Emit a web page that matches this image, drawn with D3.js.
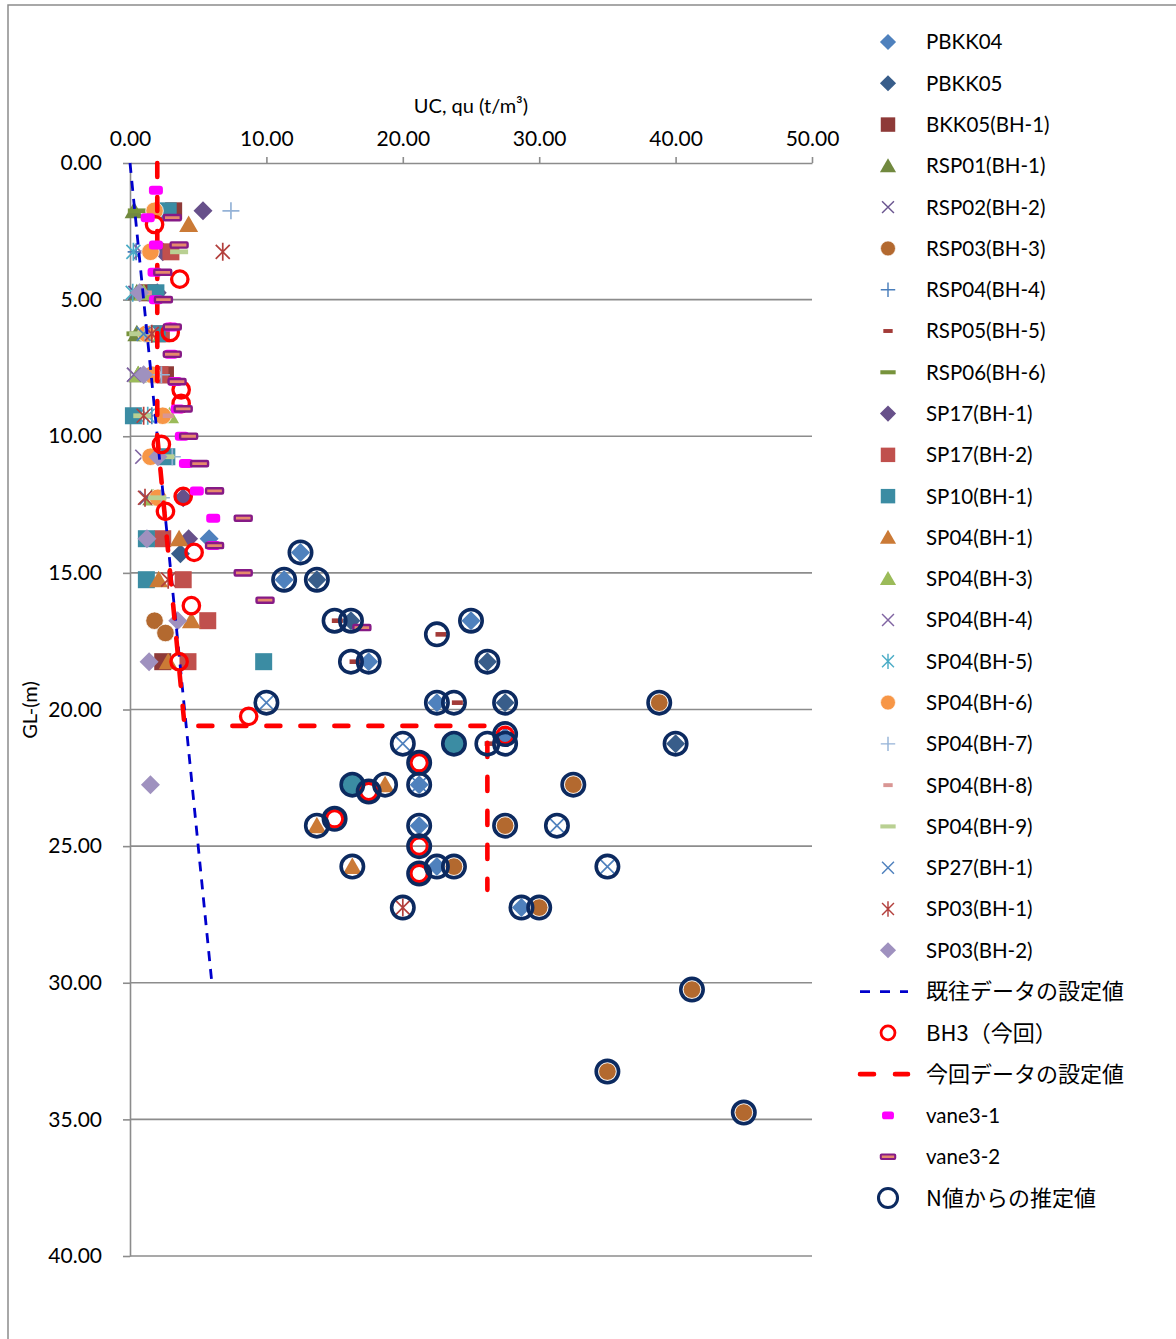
<!DOCTYPE html>
<html>
<head>
<meta charset="utf-8">
<script src="https://cdn.jsdelivr.net/npm/d3@7"></script>
<style>
  body { margin: 0; background: #fff; }
  svg { display: block; }
  text { font-family: Lato, "Noto Sans CJK JP", sans-serif; fill: #000; }
  .jp { font-family: "Noto Sans CJK JP", sans-serif; }
</style>
</head>
<body>
<svg id="chart" width="1176" height="1339"></svg>
<script>
// Axis ticks
const xTicks = [0, 10, 20, 30, 40, 50];
const yTicks = [0, 5, 10, 15, 20, 25, 30, 35, 40];

// Unconfined compressive strength qu (t/m3) vs depth GL-(m): [qu, depth]
const pbkk04 = [[5.8,13.75],[12.5,14.25],[11.3,15.25],[25.0,16.75],[17.5,18.25],[22.5,19.75],[27.5,21.0],[21.2,22.75],[21.2,24.25],[22.5,25.75],[28.7,27.25]];
const pbkk05 = [[3.7,14.3],[13.7,15.25],[16.2,16.75],[26.2,18.25],[27.5,19.75],[40.0,21.25]];
const bkk05bh1 = [[3.2,1.75],[1.3,4.75],[2.6,7.75],[2.4,18.25]];
const rsp01bh1 = [[0.3,1.75],[0.5,4.75],[0.5,6.25],[0.6,7.75],[1.6,12.25]];
const rsp02bh2 = [[2.65,1.75],[0.4,4.75],[0.3,7.75],[1.2,12.25]];
const rsp03bh3 = [[1.8,16.75],[2.6,17.2],[38.8,19.75],[32.5,22.75],[27.5,24.25],[23.75,25.75],[30.0,27.25],[41.2,30.25],[35.0,33.25],[45.0,34.75]];
const rsp04bh4 = [[0.45,3.25],[1.6,9.25]];
const rsp05bh5 = [[15.2,16.75],[22.8,17.25],[16.5,18.25],[24.0,19.75],[26.4,21.25]];
const rsp06bh6 = [[0.5,1.75],[0.4,6.25],[0.5,9.25]];
const sp17bh1 = [[5.35,1.75],[2.4,3.25],[2.0,4.75],[3.9,12.25],[4.3,13.75]];
const sp17bh2 = [[3.0,3.25],[2.3,6.25],[2.2,7.75],[2.4,13.75],[3.9,15.25],[5.7,16.75],[4.25,18.25]];
const sp10bh1 = [[2.8,1.75],[1.9,4.75],[2.0,6.25],[0.25,9.25],[2.7,10.75],[1.2,13.75],[1.2,15.25],[9.8,18.25]];
const sp10bh1Deep = [[16.3,22.75],[23.75,21.25]];
const sp04bh1 = [[4.3,2.25],[3.6,13.75],[2.1,15.25],[4.5,16.75],[2.8,18.25],[18.7,22.75],[13.7,24.25],[16.3,25.75]];
const sp04bh3 = [[1.0,4.75],[1.3,6.25],[0.6,7.75],[2.9,9.25],[1.7,12.25]];
const sp04bh4 = [[0.8,3.25],[1.5,6.25],[0.3,7.75],[0.9,10.75]];
const sp04bh5 = [[0.25,3.25],[0.2,4.75],[1.3,9.25]];
const sp04bh6 = [[1.8,1.75],[1.5,3.25],[1.2,6.25],[1.6,7.75],[2.4,9.25],[1.5,10.75],[2.05,12.25]];
const sp04bh7 = [[7.4,1.75],[1.1,6.25],[2.3,7.75],[3.1,10.75],[2.3,12.25]];
const sp04bh8 = [[1.2,4.75],[2.8,9.25]];
const sp04bh9 = [[3.6,3.25],[0.6,6.25],[0.9,9.25],[2.6,10.75],[2.0,12.25]];
const sp27bh1 = [[1.0,6.25],[10.0,19.75],[20.0,21.25],[21.2,22.75],[31.3,24.25],[35.0,25.75]];
const sp03bh1 = [[6.8,3.25],[1.6,6.25],[1.0,9.25],[1.1,12.25],[2.8,15.25],[20.0,27.25]];
const sp03bh2 = [[0.7,4.75],[1.0,7.75],[2.05,10.75],[1.24,13.75],[3.5,16.75],[1.4,18.25],[1.5,22.75]];
const designPrev = [[0,0],[6,30]];
const bh3Now = [[1.8,2.25],[3.65,4.25],[2.95,6.2],[3.75,8.3],[3.75,8.8],[2.3,10.3],[3.9,12.2],[2.6,12.75],[4.7,14.25],[4.5,16.2],[3.6,18.25],[8.7,20.25],[27.5,20.95],[21.2,21.95],[17.5,23.0],[15.0,24.0],[21.2,25.0],[21.2,26.0]];
const designNow = [[2,0],[2,10],[4,20.6],[26.2,20.6],[26.2,26.6]];
const vane31 = [[1.9,1.0],[1.3,2.0],[1.9,3.0],[1.8,4.0],[1.9,5.0],[3.0,6.0],[3.0,7.0],[3.3,8.0],[3.5,9.0],[3.8,10.0],[4.1,11.0],[4.9,12.0],[6.1,13.0],[6.1,14.0]];
const vane32 = [[3.1,2.0],[3.6,3.0],[2.4,4.0],[2.45,5.0],[3.1,6.0],[3.1,7.0],[3.45,8.0],[3.9,9.0],[4.3,10.0],[5.1,11.0],[6.2,12.0],[8.3,13.0],[6.2,14.0],[8.3,15.0],[9.9,16.0],[17.0,17.0]];
const nValueEst = [[12.5,14.25],[11.3,15.25],[13.7,15.25],[15.0,16.75],[16.2,16.75],[25.0,16.75],[22.5,17.25],[16.2,18.25],[17.5,18.25],[26.2,18.25],[10.0,19.75],[22.5,19.75],[23.75,19.75],[27.5,19.75],[38.8,19.75],[20.0,21.25],[23.75,21.25],[26.2,21.25],[27.5,20.9],[27.5,21.25],[40.0,21.25],[21.2,21.95],[16.3,22.75],[17.5,23.0],[18.7,22.75],[21.2,22.75],[32.5,22.75],[13.7,24.25],[15.0,24.0],[21.2,24.25],[27.5,24.25],[31.3,24.25],[21.2,25.0],[16.3,25.75],[22.5,25.75],[23.75,25.75],[21.2,26.0],[35.0,25.75],[20.0,27.25],[28.7,27.25],[30.0,27.25],[41.2,30.25],[35.0,33.25],[45.0,34.75]];

const svg = d3.select('#chart');
const x = d3.scaleLinear().domain([0, 50]).range([130, 812]);
const y = d3.scaleLinear().domain([0, 40]).range([163, 1256]);

// outer chart frame
svg.append('path').attr('d', 'M8,1339V5H1176').attr('fill', 'none').attr('stroke', '#8c8c8c').attr('stroke-width', 1.5);

// marker painters, drawn around the local origin
const markers = {
  diamond: (g, c) => g.append('path').attr('d', 'M0,-9.5L9.5,0L0,9.5L-9.5,0Z').attr('fill', c),
  square: (g, c) => g.append('rect').attr('x', -8.5).attr('y', -8.5).attr('width', 17).attr('height', 17).attr('fill', c),
  triangle: (g, c) => g.append('path').attr('d', 'M0,-9L9.5,7.5L-9.5,7.5Z').attr('fill', c),
  circle: (g, c) => g.append('circle').attr('r', 8.8).attr('fill', c).attr('stroke', '#fff').attr('stroke-width', 0.8),
  disc: (g, c) => g.append('circle').attr('r', 10.5).attr('fill', c),
  cross: (g, c) => g.append('path').attr('d', 'M-7,-7L7,7M-7,7L7,-7').attr('stroke', c).attr('stroke-width', 1.7).attr('fill', 'none'),
  plus: (g, c) => g.append('path').attr('d', 'M-8.5,0H8.5M0,-8.5V8.5').attr('stroke', c).attr('stroke-width', 1.7).attr('fill', 'none'),
  star: (g, c) => g.append('path').attr('d', 'M-7,-7L7,7M-7,7L7,-7M0,-9V9').attr('stroke', c).attr('stroke-width', 1.7).attr('fill', 'none'),
  dash: (g, c) => g.append('rect').attr('x', -5.5).attr('y', -2.3).attr('width', 11).attr('height', 4.6).attr('fill', c),
  longdash: (g, c) => g.append('rect').attr('x', -9).attr('y', -2.4).attr('width', 18).attr('height', 4.8).attr('fill', c),
  vane1: (g, c) => g.append('rect').attr('x', -7).attr('y', -4.5).attr('width', 14).attr('height', 9).attr('rx', 3).attr('fill', c),
  vane2: (g, c) => g.append('rect').attr('x', -8.5).attr('y', -2.6).attr('width', 17).attr('height', 5.2).attr('rx', 1)
                     .attr('fill', '#e58a6c').attr('stroke', c).attr('stroke-width', 2.4),
  ringRed: (g, c) => g.append('circle').attr('r', 8.2).attr('fill', 'none').attr('stroke', c).attr('stroke-width', 3.3),
  ringNavy: (g, c) => g.append('circle').attr('r', 11.2).attr('fill', 'none').attr('stroke', c).attr('stroke-width', 3.6)
};

const seriesList = [
  { name: 'PBKK04', data: pbkk04, type: 'diamond', color: '#4F81BD' },
  { name: 'PBKK05', data: pbkk05, type: 'diamond', color: '#385D8A' },
  { name: 'BKK05(BH-1)', data: bkk05bh1, type: 'square', color: '#8E3A38' },
  { name: 'RSP01(BH-1)', data: rsp01bh1, type: 'triangle', color: '#71893F' },
  { name: 'RSP02(BH-2)', data: rsp02bh2, type: 'cross', color: '#6B5690' },
  { name: 'RSP03(BH-3)', data: rsp03bh3, type: 'circle', color: '#B3692F' },
  { name: 'RSP04(BH-4)', data: rsp04bh4, type: 'plus', color: '#4A7EBB' },
  { name: 'RSP05(BH-5)', data: rsp05bh5, type: 'dash', color: '#A33B38' },
  { name: 'RSP06(BH-6)', data: rsp06bh6, type: 'longdash', color: '#77933C' },
  { name: 'SP17(BH-1)', data: sp17bh1, type: 'diamond', color: '#67508A' },
  { name: 'SP17(BH-2)', data: sp17bh2, type: 'square', color: '#C0504D' },
  { name: 'SP10(BH-1)', data: sp10bh1, type: 'square', color: '#3B8CA3' },
  { name: null, data: sp10bh1Deep, type: 'disc', color: '#3B8CA3' },
  { name: 'SP04(BH-1)', data: sp04bh1, type: 'triangle', color: '#CB7A36' },
  { name: 'SP04(BH-3)', data: sp04bh3, type: 'triangle', color: '#9BBB59' },
  { name: 'SP04(BH-4)', data: sp04bh4, type: 'cross', color: '#8064A2' },
  { name: 'SP04(BH-5)', data: sp04bh5, type: 'star', color: '#4BACC6' },
  { name: 'SP04(BH-6)', data: sp04bh6, type: 'circle', color: '#F79646' },
  { name: 'SP04(BH-7)', data: sp04bh7, type: 'plus', color: '#95B3D7' },
  { name: 'SP04(BH-8)', data: sp04bh8, type: 'dash', color: '#D99694' },
  { name: 'SP04(BH-9)', data: sp04bh9, type: 'longdash', color: '#B9D092' },
  { name: 'SP27(BH-1)', data: sp27bh1, type: 'cross', color: '#4F81BD' },
  { name: 'SP03(BH-1)', data: sp03bh1, type: 'star', color: '#B3403D' },
  { name: 'SP03(BH-2)', data: sp03bh2, type: 'diamond', color: '#9F91BF' },
  { name: '既往データの設定値', data: designPrev, type: 'line', color: '#0000CC', width: 2.8, dash: '10,8', cap: 'butt' },
  { name: 'BH3（今回）', data: bh3Now, type: 'ringRed', color: '#FF0000' },
  { name: '今回データの設定値', data: designNow, type: 'line', color: '#FF0000', width: 4.6, dash: '14,20', cap: 'round' },
  { name: 'vane3-1', data: vane31, type: 'vane1', color: '#FF00FF' },
  { name: 'vane3-2', data: vane32, type: 'vane2', color: '#861A86' },
  { name: 'N値からの推定値', data: nValueEst, type: 'ringNavy', color: '#0C2A60' }
];

// gridlines
const grid = svg.append('g');
grid.selectAll('line').data(yTicks.filter(d => d > 0)).join('line')
  .attr('x1', x(0)).attr('x2', x(50)).attr('y1', d => y(d)).attr('y2', d => y(d))
  .attr('stroke', '#8c8c8c').attr('stroke-width', 1.6);

// axes
const fmt = d => d.toFixed(2);
const xAxis = svg.append('g').attr('transform', `translate(0,${y(0)})`)
  .call(d3.axisTop(x).tickValues(xTicks).tickSize(6).tickSizeOuter(0).tickPadding(11).tickFormat(fmt));
const yAxis = svg.append('g').attr('transform', `translate(${x(0)},0)`)
  .call(d3.axisLeft(y).tickValues(yTicks).tickSize(7).tickSizeOuter(0).tickPadding(21).tickFormat(fmt));
[xAxis, yAxis].forEach(a => {
  a.select('.domain').attr('stroke', '#8c8c8c').attr('stroke-width', 1.6);
  a.selectAll('.tick line').attr('stroke', '#8c8c8c').attr('stroke-width', 1.6);
  a.selectAll('.tick text').attr('font-size', 21).attr('font-family', 'Lato, sans-serif').attr('fill', '#000');
});
xAxis.selectAll('.tick').filter(d => d === 0).select('line').remove();

// axis titles
svg.append('text').attr('x', 471).attr('y', 113).attr('text-anchor', 'middle').attr('font-size', 20)
  .text('UC, qu (t/m³)');
svg.append('text').attr('transform', 'translate(37,710) rotate(-90)').attr('text-anchor', 'middle').attr('font-size', 20)
  .text('GL-(m)');

// plotted series
const plot = svg.append('g');
seriesList.forEach(s => {
  if (s.type === 'line') {
    plot.append('path').datum(s.data)
      .attr('d', d3.line().x(d => x(d[0])).y(d => y(d[1])))
      .attr('fill', 'none').attr('stroke', s.color).attr('stroke-width', s.width)
      .attr('stroke-dasharray', s.dash).attr('stroke-linecap', s.cap);
  } else {
    plot.append('g').selectAll('g').data(s.data).join('g')
      .attr('transform', d => `translate(${x(d[0])},${y(d[1])})`)
      .each(function () { markers[s.type](d3.select(this), s.color); });
  }
});

// legend
const legendItems = seriesList.filter(s => s.name);
const ly = d3.scalePoint().domain(legendItems.map(s => s.name)).range([42, 1198]);
const legend = svg.append('g');
legendItems.forEach(s => {
  const row = legend.append('g').attr('transform', `translate(0,${ly(s.name)})`);
  if (s.type === 'line') {
    row.append('line').attr('x1', 860).attr('x2', 908).attr('y1', 0).attr('y2', 0)
      .attr('stroke', s.color).attr('stroke-width', s.width)
      .attr('stroke-dasharray', s.cap === 'round' ? '14,21' : '10,10').attr('stroke-linecap', s.cap);
  } else {
    const m = row.append('g').attr('transform', 'translate(888,0)');
    const t = s.type === 'disc' ? 'circle' : s.type;
    const g2 = m.append('g').attr('transform', 'scale(0.85)');
    markers[t](g2, s.color);
  }
  const isJp = /[^\x00-\x7F]/.test(s.name);
  row.append('text').attr('x', 926).attr('y', 0).attr('dy', '0.36em')
    .attr('font-size', isJp ? 22 : 20.5)
    .attr('class', isJp ? 'jp' : null)
    .text(s.name);
});
</script>
</body>
</html>
